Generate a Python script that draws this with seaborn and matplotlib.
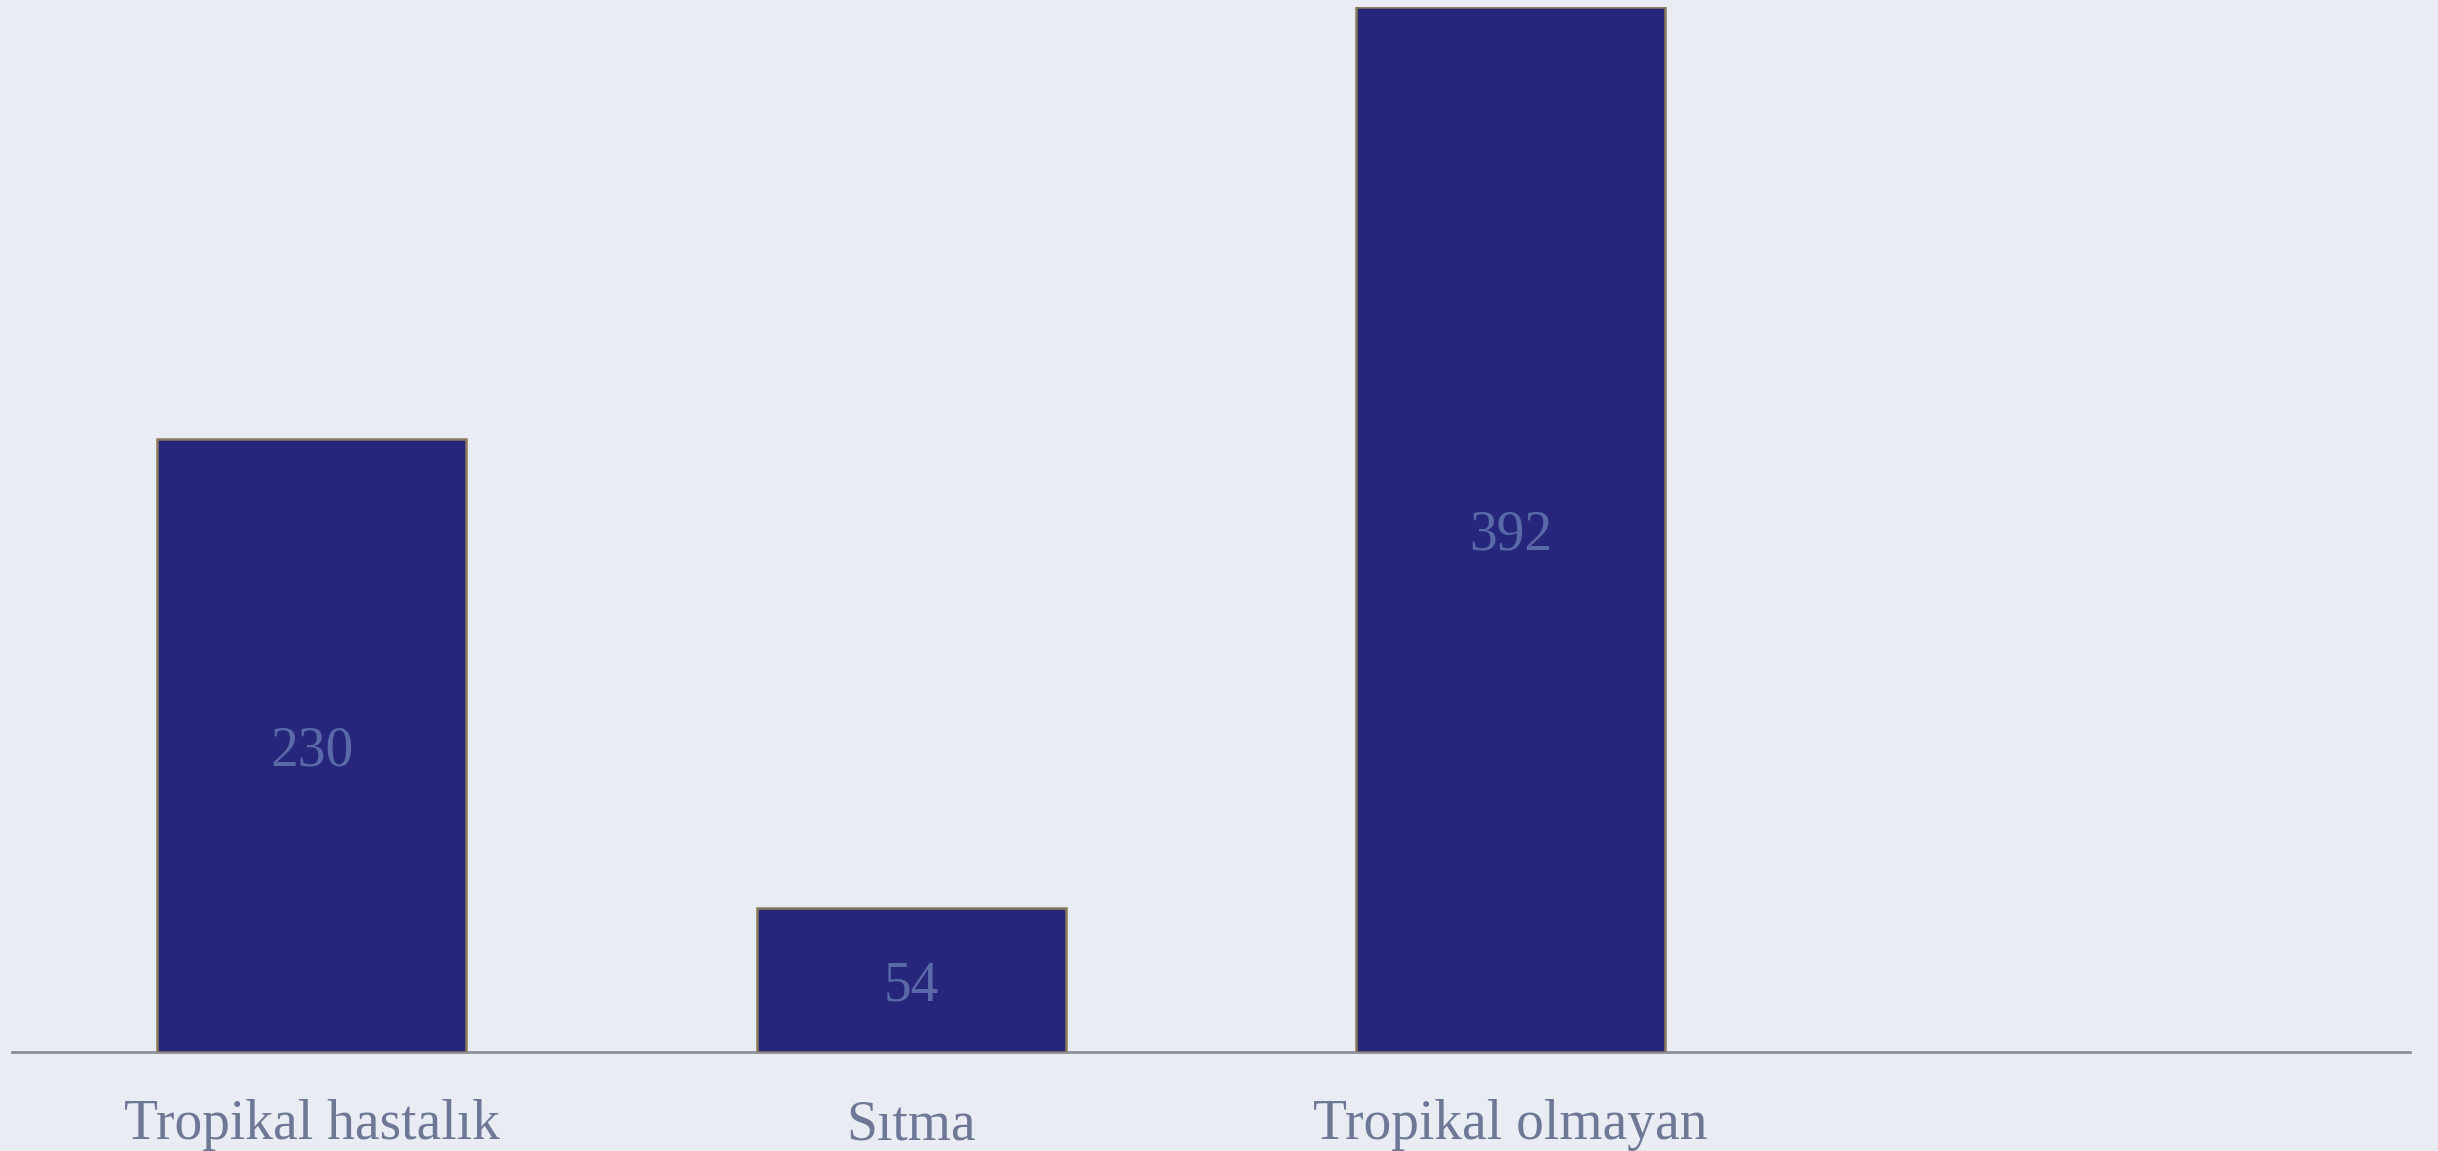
import matplotlib
matplotlib.use("Agg")
import matplotlib.pyplot as plt
import seaborn as sns
import pandas as pd

categories = ["Tropikal hastalık", "Sıtma", "Tropikal olmayan"]
values = [230, 54, 392]

bg = "#e9edf3"
bar_color = "#26267a"
edge_color = "#8a7a5c"
tick_color = "#6e7896"
value_color = "#5a69a8"

sns.set_theme(style="white")
plt.rcParams["font.family"] = ["Liberation Serif", "DejaVu Serif"]

df = pd.DataFrame({"kategori": categories, "deger": values})

fig = plt.figure(figsize=(24.38, 11.51), dpi=100, facecolor=bg)
ax = fig.add_axes([0.0049, 0.086, 0.9836, 0.908])
ax.set_facecolor(bg)

sns.barplot(data=df, x="kategori", y="deger", color=bar_color, width=0.515,
            edgecolor=edge_color, linewidth=1.8, saturation=1, ax=ax)

ax.set_xlim(-0.5, 3.5)
ax.set_ylim(0, max(values))

for i, v in enumerate(values):
    ax.text(i, v / 2, str(v), ha="center", va="center_baseline",
            fontsize=40, color=value_color, fontweight="light")

for side in ["top", "right", "left"]:
    ax.spines[side].set_visible(False)
ax.spines["bottom"].set_color("#8a8e99")
ax.spines["bottom"].set_linewidth(2)
ax.spines["bottom"].set_zorder(0)

ax.set_yticks([])
ax.set_xlabel("")
ax.set_ylabel("")
ax.tick_params(axis="x", length=0, pad=34, labelsize=40, labelcolor=tick_color)

fig.savefig("out.png", dpi=100, facecolor=bg)
